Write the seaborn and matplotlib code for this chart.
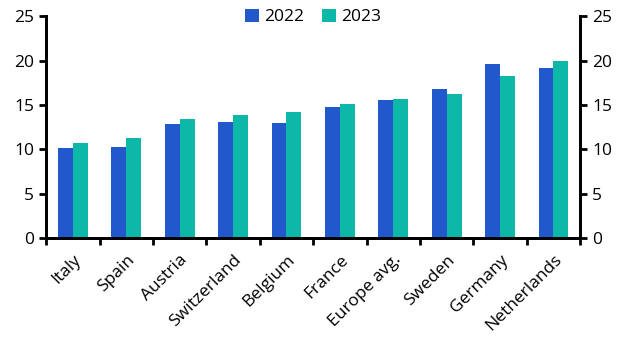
import numpy as np
import pandas as pd
import seaborn as sns
import matplotlib.pyplot as plt

# data
countries = ["Italy", "Spain", "Austria", "Switzerland", "Belgium", "France",
             "Europe avg.", "Sweden", "Germany", "Netherlands"]
v2022 = [10.1, 10.3, 12.8, 13.1, 13.0, 14.8, 15.5, 16.8, 19.6, 19.2]
v2023 = [10.7, 11.3, 13.4, 13.9, 14.2, 15.1, 15.7, 16.2, 18.2, 20.0]

df = pd.DataFrame({"country": countries * 2,
                   "year": ["2022"] * len(countries) + ["2023"] * len(countries),
                   "value": v2022 + v2023})

sns.set_theme(style="white", rc={"text.color": "black",
                                 "xtick.color": "black",
                                 "ytick.color": "black"})
plt.rcParams['font.family'] = ['Open Sans', 'DejaVu Sans']
fs = 12.5

fig = plt.figure(figsize=(6.32, 3.51), dpi=100)
ax = fig.add_axes([0.073, 0.322, 0.845, 0.632])

sns.barplot(data=df, x="country", y="value", hue="year",
            palette=["#2159CC", "#0DB8A9"], width=0.56, saturation=1,
            linewidth=0, ax=ax, legend=True)

ax.set_ylim(0, 25)
ax.set_xlim(-0.5, len(countries) - 0.5)
ax.set_yticks(np.arange(0, 26, 5))
ax.set_xlabel("")
ax.set_ylabel("")

# category ticks between groups
ax.set_xticks(np.arange(-0.5, len(countries), 1.0))
ax.set_xticklabels([])
ax.set_xticks(np.arange(len(countries)), minor=True)
ax.set_xticklabels(countries, minor=True, rotation=45, ha="right",
                   rotation_mode="anchor", fontsize=fs)
ax.tick_params(axis="x", which="minor", length=0, pad=10)
ax.tick_params(axis="x", which="major", direction="out", length=5, width=2,
               color="black", bottom=True)

ax.tick_params(axis="y", direction="out", length=5, width=2, color="black",
               labelsize=fs, left=True)
ax.spines["top"].set_visible(False)
for s in ["left", "right", "bottom"]:
    ax.spines[s].set_linewidth(2)
    ax.spines[s].set_color("black")

# right axis copy
ax2 = ax.twinx()
ax2.set_ylim(0, 25)
ax2.set_yticks(np.arange(0, 26, 5))
ax2.tick_params(axis="y", direction="out", length=5, width=2, color="black",
                labelsize=fs, right=True)
ax2.spines["top"].set_visible(False)
for s in ["left", "right", "bottom"]:
    ax2.spines[s].set_linewidth(2)
    ax2.spines[s].set_color("black")
ax2.grid(False)

ax.legend(loc="upper center", bbox_to_anchor=(0.5, 1.065), ncol=2,
          frameon=False, fontsize=fs, handlelength=0.8, handleheight=0.8,
          handletextpad=0.3, columnspacing=1.0, borderaxespad=0)

fig.savefig("out.png", dpi=100)
